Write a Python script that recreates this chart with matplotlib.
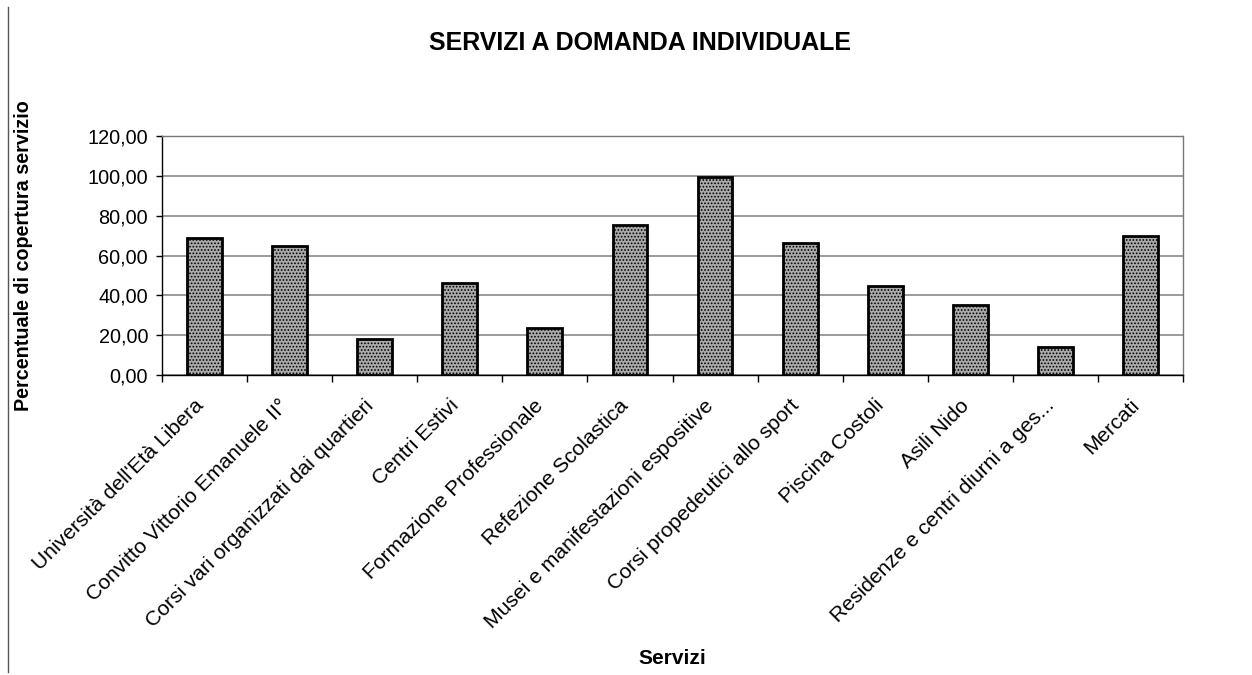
import numpy as np
import matplotlib.pyplot as plt
from matplotlib.lines import Line2D
from matplotlib.ticker import FixedLocator, FuncFormatter
from matplotlib.transforms import ScaledTranslation

plt.rcParams['font.family'] = ['Liberation Sans', 'DejaVu Sans']
plt.rcParams['hatch.color'] = '#505050'
plt.rcParams['hatch.linewidth'] = 0.8

servizi = [
    "Università dell'Età Libera",
    "Convitto Vittorio Emanuele II°",
    "Corsi vari organizzati dai quartieri",
    "Centri Estivi",
    "Formazione Professionale",
    "Refezione Scolastica",
    "Musei e manifestazioni espositive",
    "Corsi propedeutici allo sport",
    "Piscina Costoli",
    "Asili Nido",
    "Residenze e centri diurni a ges...",
    "Mercati",
]
copertura = [68.6, 64.6, 17.9, 46.1, 23.7, 75.4, 99.2, 66.3, 44.5, 35.4, 14.0, 69.8]
y_ticks = [0, 20, 40, 60, 80, 100, 120]

fig = plt.figure(figsize=(12.52, 6.75), dpi=100)
ax = fig.add_axes([0.1294, 0.4444, 0.8155, 0.3541])

x = np.arange(len(servizi))
ax.bar(x, copertura, width=0.41, color='#aaaaaa', edgecolor='black',
       linewidth=2.0, hatch='.....', zorder=3)

ax.set_xlim(-0.5, len(servizi) - 0.5)
ax.set_ylim(0, 120)
ax.yaxis.set_major_locator(FixedLocator(y_ticks))
ax.yaxis.set_major_formatter(FuncFormatter(lambda v, p: f"{v:.2f}".replace('.', ',')))
ax.tick_params(axis='y', labelsize=14.3, length=4, width=1, pad=6)

# category ticks sit between the bars, labels at the bar centres
ax.set_xticks(np.arange(-0.5, len(servizi), 1.0))
ax.set_xticklabels([])
ax.tick_params(axis='x', which='major', length=5, width=1, direction='out')
ax.set_xticks(x, minor=True)
ax.set_xticklabels(servizi, minor=True, rotation=45, ha='right',
                   rotation_mode='anchor', fontsize=15.2)
ax.tick_params(axis='x', which='minor', length=0, pad=15)
shift = ScaledTranslation(-0.11, 0, fig.dpi_scale_trans)
for lbl in ax.get_xticklabels(minor=True):
    lbl.set_transform(lbl.get_transform() + shift)

ax.grid(axis='y', color='#808080', linewidth=1.1, zorder=0)
for side in ['top', 'right']:
    ax.spines[side].set_color('#777777')
    ax.spines[side].set_linestyle((0, (1, 1)))
    ax.spines[side].set_linewidth(1.0)
for side in ['left', 'bottom']:
    ax.spines[side].set_color('black')
    ax.spines[side].set_linewidth(1.0)

fig.text(0.511, 0.936, "SERVIZI A DOMANDA INDIVIDUALE", ha='center', va='center',
         fontsize=18, fontweight='bold')
fig.text(0.019, 0.622, "Percentuale di copertura servizio", ha='center', va='center',
         rotation=90, fontsize=14.2, fontweight='bold')
fig.text(0.537, 0.024, "Servizi", ha='center', va='center',
         fontsize=15, fontweight='bold')

# page border on the left
fig.add_artist(Line2D([0.0065, 0.0065], [0.005, 0.99], transform=fig.transFigure,
                      color='#555555', linewidth=1.0))

fig.savefig('out.png', dpi=100)
